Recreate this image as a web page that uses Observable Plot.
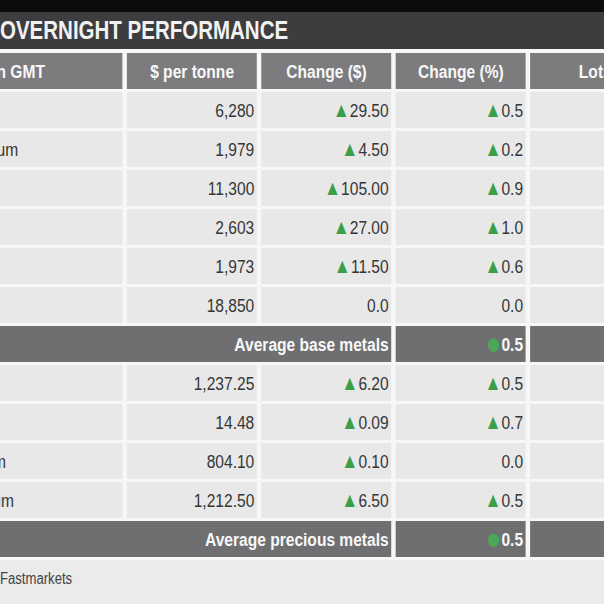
<!DOCTYPE html>
<html>
<head>
<meta charset="utf-8">
<script src="https://cdn.jsdelivr.net/npm/d3@7"></script>
<script src="https://cdn.jsdelivr.net/npm/@observablehq/plot@0.6"></script>
<style>
  html, body { margin: 0; padding: 0; width: 604px; height: 604px; overflow: hidden; background: #ebebeb; }
  #wrap { position: relative; width: 604px; height: 604px; overflow: hidden;
          font-family: "Liberation Sans", Arial, sans-serif; }
  #topbar { height: 12px; background: #0c0c0c; }
  #title { height: 37px; background: #3d3d3f; color: #f2f2f2; font-weight: bold; font-size: 25px;
           line-height: 37px; white-space: nowrap; }
  #title span, #foot .src { display: inline-block; transform: scaleX(0.82); transform-origin: 0 50%; }
  #chart { height: 511px; width: 604px; overflow: hidden; }
  #chart svg { display: block; margin-left: -60px; max-width: none; }
  #foot { height: 44px; background: #ebebeb; color: #444; font-size: 16px; line-height: 37px; white-space: nowrap; }
  #foot .src { position: relative; }
  #foot .src .pre { position: absolute; right: 100%; }
</style>
</head>
<body>
<div id="wrap">
  <div id="topbar"></div>
  <div id="title"><span>OVERNIGHT PERFORMANCE</span></div>
  <div id="chart"></div>
  <div id="foot"><span class="src"><span class="pre">Source:&nbsp;</span>Fastmarkets</span></div>
</div>
<script>
// ---------- data ----------
const headers = ["Close in GMT", "$ per tonne", "Change ($)", "Change (%)", "Lots"];
const metals = ["Copper", "Aluminium", "Nickel", "Zinc", "Lead", "Tin", "Gold", "Silver", "Platinum", "Palladium"];
const groups = ["base", "base", "base", "base", "base", "base", "precious", "precious", "precious", "precious"];
const prices = [6280, 1979, 11300, 2603, 1973, 18850, 1237.25, 14.48, 804.10, 1212.50];
const changeUsd = [29.50, 4.50, 105.00, 27.00, 11.50, 0.0, 6.20, 0.09, 0.10, 6.50];
const changePct = [0.5, 0.2, 0.9, 1.0, 0.6, 0.0, 0.5, 0.7, 0.0, 0.5];
const averageLabels = ["Average base metals", "Average precious metals"];
const averagePct = [0.5, 0.5];

// ---------- layout (not data) ----------
const colUnits = [1.357, 1, 1, 1, 1];
const edges = Array.from(d3.cumsum([0, ...colUnits]));
const totalUnits = edges[edges.length - 1];
const W = 720, H = 511;
const green = "#3b9f4a";
const cellLight = "#e8e8e8", cellHead = "#7c7c7f", cellAvg = "#6f6f71";
const textDark = "#363636";
const narrow = 0.82;

const fmtBase = d3.format(",.0f"), fmtPrec = d3.format(",.2f");

const rowKeys = ["header"];
const rows = metals.map((m, i) => ({
  key: m, name: m, group: groups[i],
  price: groups[i] === "base" ? fmtBase(prices[i]) : fmtPrec(prices[i]),
  chg: changeUsd[i] > 0 ? "▲" + changeUsd[i].toFixed(2) : changeUsd[i].toFixed(1),
  pct: changePct[i] > 0 ? "▲" + changePct[i].toFixed(1) : changePct[i].toFixed(1)
}));
const avgRows = averageLabels.map((l, i) => ({key: "avg" + i, label: l, pct: "●" + averagePct[i].toFixed(1)}));
rows.filter(r => r.group === "base").forEach(r => rowKeys.push(r.key));
rowKeys.push(avgRows[0].key);
rows.filter(r => r.group === "precious").forEach(r => rowKeys.push(r.key));
rowKeys.push(avgRows[1].key);

const cells = [];
headers.forEach((h, i) => cells.push({row: "header", x1: edges[i], x2: edges[i + 1], fill: cellHead}));
rows.forEach(r => colUnits.forEach((u, i) => cells.push({row: r.key, x1: edges[i], x2: edges[i + 1], fill: cellLight})));
avgRows.forEach(a => {
  cells.push({row: a.key, x1: edges[0], x2: edges[3], fill: cellAvg});
  cells.push({row: a.key, x1: edges[3], x2: edges[4], fill: cellAvg});
  cells.push({row: a.key, x1: edges[4], x2: edges[5], fill: cellAvg});
});

const headerCells = headers.map((h, i) => ({row: "header", text: h, i}));

const plot = Plot.plot({
  width: W, height: H,
  marginTop: 0, marginBottom: 0, marginLeft: 0, marginRight: 0,
  x: {type: "linear", domain: [0, totalUnits], range: [0, W], axis: null},
  y: {type: "band", domain: rowKeys, paddingInner: 0.077, paddingOuter: 0.077, align: 0.5, axis: null},
  color: {type: "identity"},
  style: {background: "#f7f7f7", fontFamily: "'Liberation Sans', Arial, sans-serif", fontSize: "19px", maxWidth: "none"},
  marks: [
    Plot.barX(cells, {x1: "x1", x2: "x2", y: "row", fill: "fill", insetLeft: 4.5}),
    Plot.text(headerCells.filter(d => d.i === 0), {x: () => edges[0], y: "row", text: "text", textAnchor: "start", dx: 5, fill: "#f8f8f8", fontWeight: "bold"}),
    Plot.text(headerCells.filter(d => d.i > 0), {x: d => (edges[d.i] + edges[d.i + 1]) / 2, y: "row", text: "text", dx: 2, fill: "#f8f8f8", fontWeight: "bold"}),
    Plot.text(rows, {x: () => edges[0], y: "key", text: "name", textAnchor: "start", dx: 5, fill: textDark}),
    Plot.text(rows, {x: () => edges[2], y: "key", text: "price", textAnchor: "end", dx: -3, fill: textDark}),
    Plot.text(rows, {x: () => edges[3], y: "key", text: "chg", textAnchor: "end", dx: -3, fill: textDark}),
    Plot.text(rows, {x: () => edges[4], y: "key", text: "pct", textAnchor: "end", dx: -3, fill: textDark}),
    Plot.text(avgRows, {x: () => edges[3], y: "key", text: "label", textAnchor: "end", dx: -3, fill: "#f8f8f8", fontWeight: "bold"}),
    Plot.text(avgRows, {x: () => edges[4], y: "key", text: "pct", textAnchor: "end", dx: -3, fill: "#f8f8f8", fontWeight: "bold"})
  ]
});

const NS = "http://www.w3.org/2000/svg";
plot.querySelectorAll("text").forEach(t => {
  const tr = t.getAttribute("transform") || "";
  t.setAttribute("transform", tr + ` scale(${narrow},1)`);
  const s = t.textContent;
  if (/^[▲●]/.test(s)) {
    const isDot = s[0] === "●";
    t.textContent = "";
    const a = document.createElementNS(NS, "tspan");
    a.setAttribute("fill", isDot ? "#48a857" : green);
    a.setAttribute("font-size", isDot ? "31px" : "21px");
    a.setAttribute("font-weight", "normal");
    if (isDot) a.setAttribute("dy", "3");
    a.textContent = s[0];
    const b = document.createElementNS(NS, "tspan");
    if (isDot) b.setAttribute("dy", "-3");
    b.textContent = s.slice(1);
    t.append(a, b);
  }
});

document.getElementById("chart").appendChild(plot);
</script>
</body>
</html>
